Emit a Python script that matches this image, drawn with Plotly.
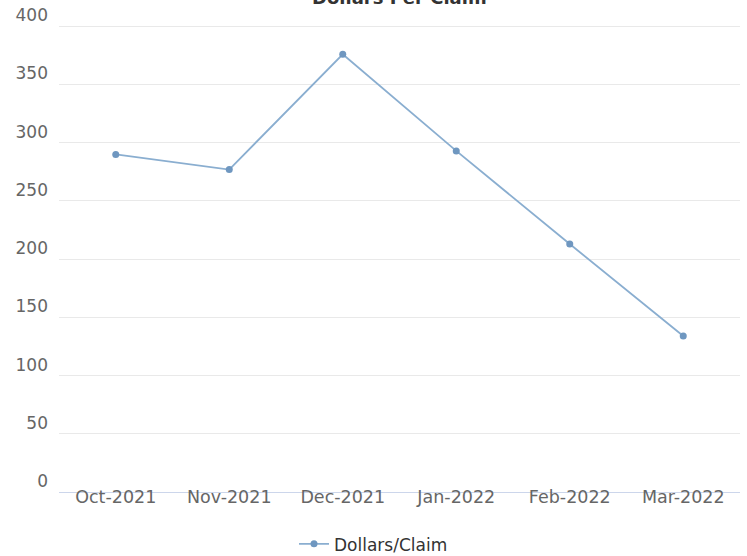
import plotly.graph_objects as go

months = ["Oct-2021", "Nov-2021", "Dec-2021", "Jan-2022", "Feb-2022", "Mar-2022"]
dollars_per_claim = [290, 277, 376, 293, 213, 134]
y_ticks = [0, 50, 100, 150, 200, 250, 300, 350, 400]

fig = go.Figure()
fig.add_trace(go.Scatter(
    x=months, y=dollars_per_claim, mode="lines+markers", name="Dollars/Claim",
    line=dict(color="#8aaed0", width=1.8),
    marker=dict(color="#6f97c0", size=7),
))

fig.update_layout(
    width=747, height=556,
    paper_bgcolor="white", plot_bgcolor="white",
    font=dict(family="DejaVu Sans", size=17, color="#666666"),
    margin=dict(l=59, r=7, t=24, b=64),
    showlegend=True,
    legend=dict(orientation="h", x=0.5, xanchor="center", xref="container",
                y=0.021, yref="container", yanchor="middle",
                font=dict(size=17, color="#333333")),
    xaxis=dict(type="category", range=[-0.5, 5.5], showgrid=False, showline=True,
               linecolor="#ccd6eb", linewidth=1, ticks="", ticklabelstandoff=-11,
               automargin=False, tickfont=dict(size=17.5, color="#666666")),
    yaxis=dict(range=[0, 402], tickvals=y_ticks, showgrid=True, gridcolor="#e9e9e9",
               zeroline=False, showline=False, ticklabelshift=-11, ticklabelstandoff=10,
               automargin=False,
               tickfont=dict(size=17, color="#666666")),
    annotations=[dict(text="<b>Dollars Per Claim</b>", x=0.5, xref="paper",
                      y=1 + 26.5 / 468, yref="paper", yanchor="middle", showarrow=False,
                      font=dict(size=18, color="#333333"))],
)

fig.write_html("out.html", config={"displayModeBar": False},
               post_script="document.body.style.margin='0';")
